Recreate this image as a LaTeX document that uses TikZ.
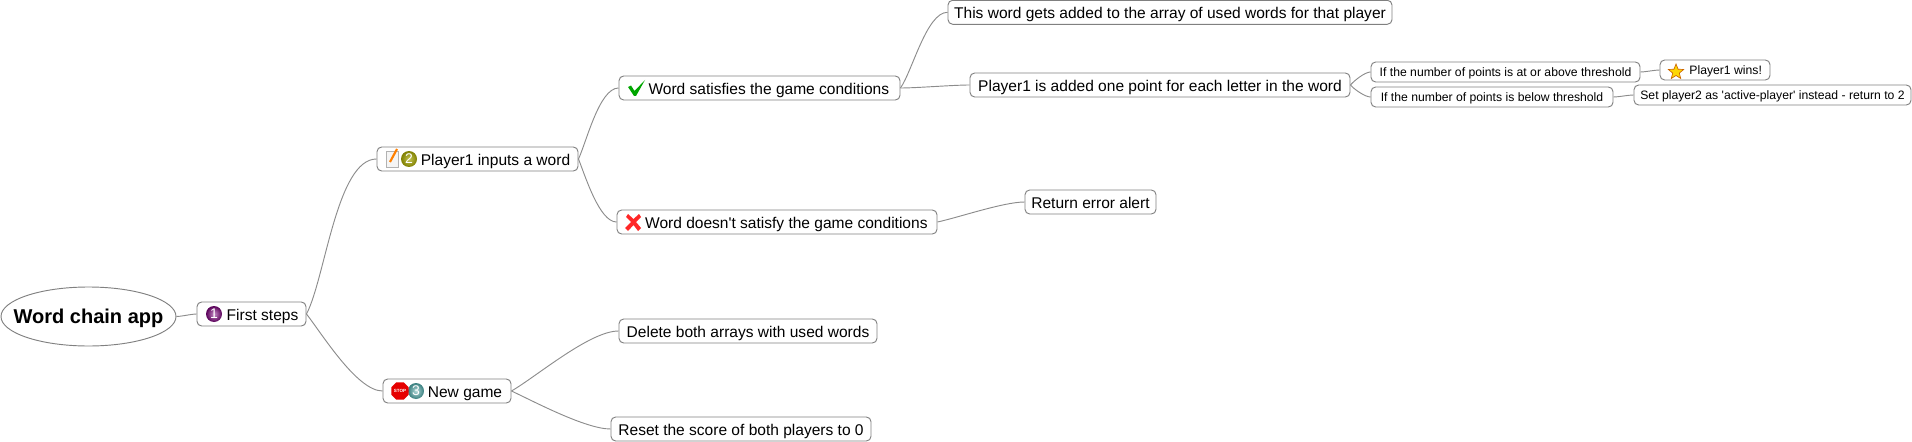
\documentclass[tikz,border=0pt]{standalone}
\usepackage{fontspec}
\setmainfont{Liberation Sans}[Ligatures=TeXOff]
\usetikzlibrary{shapes.geometric}
\definecolor{edgegray}{HTML}{8C8C8C}
\definecolor{boxgray}{HTML}{808080}
\tikzset{
  item/.style={draw=boxgray,line width=0.7pt,rounded corners=3.5pt,fill=white,minimum height=18pt,inner sep=0pt,text height=12pt,text depth=2.2pt,font=\fontsize{11.65}{14}\selectfont},
  smallitem/.style={item,minimum height=15pt,text height=9.5pt,text depth=2.2pt,font=\fontsize{9.15}{11}\selectfont},
  link/.style={draw=edgegray,line width=0.7pt,looseness=0.6},
  ball/.style 2 args={circle,minimum size=12pt,inner sep=0pt,inner color=#1,outer color=#2,text=white,font=\fontsize{10.5}{10.5}\selectfont}
}
\begin{document}
\begin{tikzpicture}[x=0.75pt,y=-0.75pt]
\useasboundingbox (0,0) rectangle (1912,442);
\node[draw=boxgray,line width=0.7pt,ellipse,inner xsep=-12pt,inner ysep=0pt,minimum width=131.25pt,minimum height=44.25pt,text height=13.5pt,text depth=2.3pt,font=\fontsize{15}{18}\selectfont\bfseries] (root) at (88.5,316.5) {Word chain app};
\node[item,minimum width=81.75pt] (first) at (251.5,314) {\hspace*{16.5pt}First steps};
\node[item,minimum width=150.75pt] (player) at (477.5,159) {\hspace*{27pt}Player1 inputs a word};
\node[item,minimum width=96pt] (newgame) at (447,391) {\hspace*{27pt}New game};
\node[item,minimum width=210.75pt] (satisfied) at (759.5,88) {\hspace*{14pt}Word satisfies the game conditions};
\node[item,minimum width=240pt] (failed) at (777,222) {\hspace*{14pt}Word doesn't satisfy the game conditions};
\node[item,minimum width=333pt] (used) at (1170,12.3) {This word gets added to the array of used words for that player};
\node[item,minimum width=285pt] (points) at (1160,85) {Player1 is added one point for each letter in the word};
\node[item,minimum width=98.25pt] (alert) at (1090.5,202) {Return error alert};
\node[item,minimum width=193.5pt] (delete) at (748,331) {Delete both arrays with used words};
\node[item,minimum width=195pt] (reset) at (741,429) {Reset the score of both players to 0};
\node[smallitem,minimum width=201.75pt] (above) at (1505.5,72) {If the number of points is at or above threshold};
\node[smallitem,minimum width=181.5pt] (below) at (1492,97) {If the number of points is below threshold};
\node[smallitem,minimum width=82.5pt] (wins) at (1715,70) {\hspace*{16pt}Player1 wins!};
\node[smallitem,minimum width=207.75pt] (active) at (1772.5,95) {Set player2 as 'active-player' instead - return to 2};
% connectors
\draw[link] (root.east) to[out=0,in=180] (first.west);
\draw[link] (first.east) to[out=62,in=180] (player.west);
\draw[link] (first.east) to[out=-52,in=180] (newgame.west);
\draw[link] (player.east) to[out=65,in=180] (satisfied.west);
\draw[link] (player.east) to[out=-68,in=180] (failed.west);
\draw[link] (newgame.east) to[out=30,in=180] (delete.west);
\draw[link] (newgame.east) to[out=-25,in=180] (reset.west);
\draw[link] (satisfied.east) to[out=55,in=180] (used.west);
\draw[link] (satisfied.east) to[out=0,in=180] (points.west);
\draw[link] (failed.east) to[out=12,in=180] (alert.west);
\draw[link] (points.east) to[out=50,in=180] (above.west);
\draw[link] (points.east) to[out=-50,in=180] (below.west);
\draw[link] (above.east) to[out=0,in=180] (wins.west);
\draw[link] (below.east) to[out=0,in=180] (active.west);
% icons
\node[ball={violet!45!white}{violet!70!black}] (one) at (214,314) {1};
\node[ball={olive!45!white}{olive!70!gray}] (two) at (409,159) {2};
\node[ball={teal!30!white}{teal!55!gray}] (three) at (416,391) {3};
\draw[draw=gray!60,fill=gray!8] (386,151) rectangle (398,167);
\draw[orange,line width=1.6pt] (397,149) -- (390,162);
\node[regular polygon,regular polygon sides=8,minimum size=12.5pt,inner sep=0pt,fill=red!90!black,text=white,font=\fontsize{3.4}{4}\selectfont\bfseries] (stop) at (400,391) {STOP};
\fill[green!65!black] (628,87) -- (631,85.5) -- (634.5,91) -- (645,80) -- (636,96) -- (634,96) -- cycle;
\fill[red!85!white] (626,217) -- (628,214) -- (633.5,219) -- (639,214) -- (641,217) -- (636,222) -- (641,228) -- (638,231) -- (633.5,225) -- (628,231) -- (625,228) -- (631,222) -- cycle;
\node[star,star points=5,star point ratio=2.3,minimum size=12pt,inner sep=0pt,draw=orange!80!black,line width=0.5pt,fill=yellow!75!orange] (star) at (1676,72) {};
\end{tikzpicture}
\end{document}
